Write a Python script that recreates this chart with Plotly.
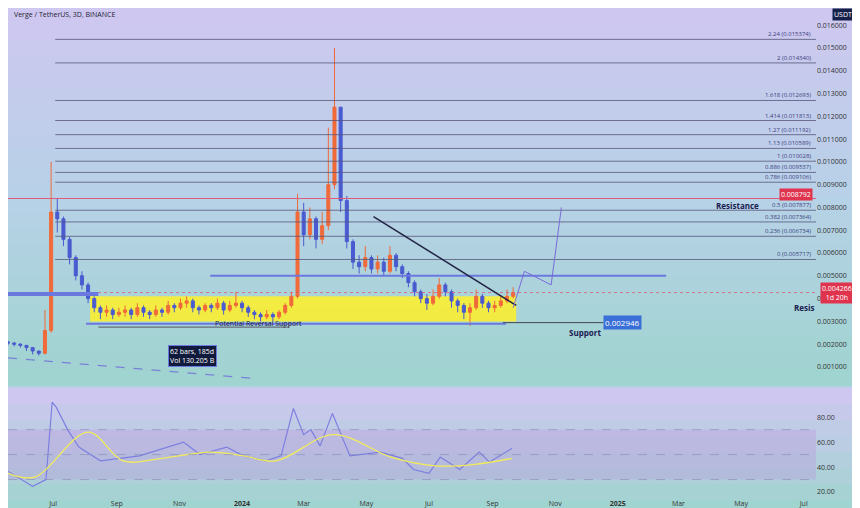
import plotly.graph_objects as go
import pandas as pd

# ---------------- data ----------------
start = "2023-05-18"
closes = [2.05,2.0,1.95,1.85,1.7,1.6,2.6,7.8,7.5,6.6,5.8,5.0,4.6,4.0,3.6,3.4,3.5,3.3,3.4,3.5,3.3,3.6,3.4,3.3,3.5,3.4,3.7,3.6,3.8,3.9,3.6,3.5,3.7,3.6,3.8,3.5,3.7,3.8,3.6,3.4,3.3,3.2,3.3,3.2,3.4,3.7,4.1,7.8,6.8,7.5,6.6,7.2,9.0,12.4,8.3,6.5,5.6,5.4,5.8,5.3,5.6,5.2,5.9,5.4,5.1,4.7,4.3,4.0,3.8,4.1,4.6,4.3,3.9,3.7,3.4,3.6,4.1,3.8,3.6,3.7,3.9,4.1,4.27]
highs = [2.15,2.1,2.05,1.95,1.8,1.7,3.5,10.0,8.4,7.6,6.7,5.9,5.2,4.7,4.1,3.7,3.7,3.6,3.6,3.7,3.6,3.8,3.7,3.5,3.7,3.6,3.9,3.8,4.0,4.1,4.0,3.7,3.8,3.8,4.0,3.9,3.9,4.3,3.9,3.7,3.5,3.4,3.5,3.4,3.5,3.8,4.3,8.6,8.2,8.0,7.6,7.8,11.5,15.0,9.0,8.5,6.6,5.9,6.3,5.9,5.9,5.8,6.3,6.0,5.5,5.2,4.8,4.4,4.2,4.4,4.9,4.7,4.4,4.0,3.8,3.8,4.4,4.2,3.9,3.9,4.1,4.4,4.5]
lows = [1.95,1.9,1.85,1.7,1.55,1.5,1.55,2.5,6.9,6.3,5.5,4.8,4.4,3.8,3.4,3.1,3.2,3.1,3.2,3.2,3.1,3.2,3.2,3.1,3.2,3.2,3.3,3.4,3.5,3.6,3.4,3.3,3.4,3.4,3.5,3.3,3.4,3.6,3.4,3.2,3.1,3.0,3.1,3.0,3.1,3.3,3.6,4.0,6.3,6.6,6.2,6.4,7.0,8.8,7.8,6.2,5.3,5.1,5.2,5.1,5.1,5.0,5.1,5.2,4.9,4.5,4.1,3.8,3.5,3.7,4.0,4.1,3.6,3.4,3.1,2.8,3.5,3.6,3.4,3.4,3.6,3.8,4.0]
first_open = 2.1

rsi_dates = ["2023-05-18","2023-06-11","2023-06-24","2023-06-30","2023-07-04","2023-07-15","2023-07-26","2023-08-16","2023-09-23","2023-10-20","2023-11-05","2023-11-21","2023-12-17","2024-01-02","2024-01-24","2024-02-08","2024-02-20","2024-03-01","2024-03-08","2024-03-17","2024-03-29","2024-04-08","2024-04-15","2024-05-15","2024-06-05","2024-06-16","2024-07-01","2024-07-12","2024-07-31","2024-08-19","2024-08-29","2024-09-20"]
rsi_vals = [36.5,24.6,30,92,88,70,56,45,49,56,60,50,56,49,45,49,87,66,70,57,83,63,49,52,47,38,35,48,38,52,44,55]
ma_dates = ["2023-05-18","2023-06-13","2023-08-04","2023-09-07","2023-10-15","2023-12-01","2024-01-02","2024-02-03","2024-03-30","2024-05-25","2024-07-07","2024-08-13","2024-09-20"]
ma_vals = [35,32,68,45,47,52,49,45,66,48,41,42,47]

fib_ratios = ["2.618","2.24","2","1.618","1.414","1.27","1.13","1","0.886","0.786","0.5","0.382","0.236","0"]
fib_prices = [0.017004,0.015374,0.014340,0.012693,0.011813,0.011192,0.010589,0.010028,0.009537,0.009106,0.007877,0.007364,0.006734,0.005717]

resistance = 0.008392
resistance_label = "0.008792"
last_price = 0.004266
support = 0.002946

tick_dates = ["2023-07-01","2023-09-01","2023-11-01","2024-01-01","2024-03-01","2024-05-01","2024-07-01","2024-09-01","2024-11-01","2025-01-01","2025-03-01","2025-05-01","2025-07-01"]
tick_text = ["Jul","Sep","Nov","<b>2024</b>","Mar","May","Jul","Sep","Nov","<b>2025</b>","Mar","May","Jul"]

# ---------------- build ----------------
dates = pd.date_range(start, periods=len(closes), freq="6D")
c = [v/1000 for v in closes]
h = [v/1000 for v in highs]
l = [v/1000 for v in lows]
o = [first_open/1000] + c[:-1]

fig = go.Figure()
fig.add_trace(go.Candlestick(x=dates, open=o, high=h, low=l, close=c,
    increasing=dict(line=dict(color="#f06a3a", width=1), fillcolor="#f06a3a"),
    decreasing=dict(line=dict(color="#4a5ad0", width=1), fillcolor="#4a5ad0"),
    whiskerwidth=0, xaxis="x", yaxis="y", showlegend=False))
fig.add_trace(go.Scatter(x=rsi_dates, y=rsi_vals, mode="lines", line=dict(color="#7d7fe0", width=1.2),
                         xaxis="x2", yaxis="y2", showlegend=False))
fig.add_trace(go.Scatter(x=ma_dates, y=ma_vals, mode="lines", line=dict(color="#f2ec5a", width=1.3, shape="spline"),
                         xaxis="x2", yaxis="y2", showlegend=False))

XR = ["2023-05-18", "2025-07-13"]
shapes = []
top = (206, 200, 240); mid = (184, 210, 232); bot = (160, 212, 208)
N = 24
for k in range(N):
    t = k / (N - 1)
    if t < 0.5:
        a, b, u = top, mid, t / 0.5
    else:
        a, b, u = mid, bot, (t - 0.5) / 0.5
    col = "rgb(%d,%d,%d)" % tuple(int(a[j] + (b[j]-a[j])*u) for j in range(3))
    y1 = 1.0 - k*(0.77/N)
    shapes.append(dict(type="rect", xref="paper", yref="paper", x0=0, x1=1.07, y0=y1-0.77/N-0.002, y1=y1,
                       fillcolor=col, line_width=0, layer="below"))
for k in range(8):
    t = k / 7
    col = "rgb(%d,%d,%d)" % tuple(int(top[j] + (bot[j]-top[j])*t) for j in range(3))
    y1 = 0.225 - k*(0.262/8)
    shapes.append(dict(type="rect", xref="paper", yref="paper", x0=0, x1=1.07, y0=y1-0.262/8-0.002, y1=y1,
                       fillcolor=col, line_width=0, layer="below"))
shapes.append(dict(type="rect", xref="paper", yref="y2", x0=0, x1=1, y0=30, y1=70,
                   fillcolor="rgba(190,150,220,0.35)", line_width=0, layer="below"))
for lv in (30, 50, 70):
    shapes.append(dict(type="line", xref="paper", yref="y2", x0=0, x1=1, y0=lv, y1=lv,
                       line=dict(color="#8a8ab8", width=0.6, dash="dash")))
shapes.append(dict(type="rect", xref="x", yref="y", x0="2023-08-06", x1="2024-09-24", y0=0.0030, y1=0.0041,
                   fillcolor="rgba(255,240,40,0.85)", line_width=0, layer="below"))
for p in fib_prices:
    shapes.append(dict(type="line", xref="x", yref="y", x0="2023-07-03", x1=XR[1], y0=p, y1=p,
                       line=dict(color="#55557a", width=0.8)))
shapes.append(dict(type="line", xref="paper", yref="y", x0=0, x1=1, y0=resistance, y1=resistance,
                   line=dict(color="#e05a7a", width=1)))
shapes.append(dict(type="line", xref="paper", yref="y", x0=0, x1=1, y0=last_price, y1=last_price,
                   line=dict(color="#e05a7a", width=0.8, dash="dot")))
shapes.append(dict(type="line", xref="x", yref="y", x0="2023-05-18", x1="2023-08-14", y0=0.0042, y1=0.0042,
                   line=dict(color="#6a78e0", width=4)))
shapes.append(dict(type="line", xref="x", yref="y", x0="2023-12-01", x1="2025-02-17", y0=0.0050, y1=0.0050,
                   line=dict(color="#6a78e0", width=2)))
shapes.append(dict(type="line", xref="x", yref="y", x0="2023-08-02", x1="2024-09-14", y0=0.0029, y1=0.0029,
                   line=dict(color="#6a78e0", width=2)))
shapes.append(dict(type="line", xref="x", yref="y", x0="2024-09-11", x1="2024-12-18", y0=support, y1=support,
                   line=dict(color="#445", width=1)))
shapes.append(dict(type="line", xref="x", yref="y", x0="2024-05-08", y0=0.0076, x1="2024-09-24", y1=0.0037,
                   line=dict(color="#222244", width=1.5)))
shapes.append(dict(type="path", xref="x", yref="y",
                   path="M 2024-09-21,0.0036 L 2024-10-02,0.0052 L 2024-10-28,0.0046 L 2024-11-07,0.0080",
                   line=dict(color="#7a6ad8", width=1)))
shapes.append(dict(type="line", xref="x", yref="y", x0="2023-08-14", x1="2024-02-16", y0=0.00275, y1=0.00275,
                   line=dict(color="#556", width=1)))
shapes.append(dict(type="line", xref="x", yref="y", x0="2023-05-18", y0=0.0014, x1="2024-01-12", y1=0.0005,
                   line=dict(color="#7a80d8", width=1.2, dash="dash")))

ann = []
for r, p in zip(fib_ratios, fib_prices):
    ann.append(dict(x="2025-07-10", y=p, xref="x", yref="y", text="%s (%.6f)" % (r, p), showarrow=False,
                    xanchor="right", yanchor="bottom", yshift=-1, font=dict(size=6, color="#3c3c80")))
ann += [
    dict(x=0.005, y=1.0, xref="paper", yref="paper", text="Verge / TetherUS, 3D, BINANCE", showarrow=False,
         xanchor="left", yanchor="top", font=dict(size=7, color="#223")),
    dict(x="2025-07-10", y=resistance, xref="x", yref="y", text=resistance_label, showarrow=False, xanchor="right",
         yanchor="middle", yshift=4, bgcolor="#e0344e", borderpad=1, font=dict(size=7, color="white")),
    dict(x="2025-05-20", y=0.0081, xref="x", yref="y", text="<b>Resistance</b>", showarrow=False, xanchor="right",
         yanchor="middle", font=dict(size=8, color="#1a2050")),
    dict(x=1.0, y=0.0036, xref="paper", yref="y", text="<b>Resis</b>", showarrow=False, xanchor="right",
         yanchor="middle", font=dict(size=8, color="#1a2050")),
    dict(x=1.005, y=last_price, xref="paper", yref="y", text="0.004266<br>1d 20h", showarrow=False, xanchor="left",
         yanchor="middle", bgcolor="#e0344e", font=dict(size=7, color="white")),
    dict(x=1.02, y=1.0, xref="paper", yref="paper", text="USDT", showarrow=False, xanchor="left", yanchor="top",
         bgcolor="#15204a", font=dict(size=7, color="white")),
    dict(x="2024-01-17", y=0.0029, xref="x", yref="y", text="Potential Reversal Support", showarrow=False,
         yanchor="middle", font=dict(size=7, color="#223")),
    dict(x="2024-11-30", y=0.0025, xref="x", yref="y", text="<b>Support</b>", showarrow=False,
         font=dict(size=8, color="#1a2050")),
    dict(x="2024-12-18", y=support, xref="x", yref="y", text="0.002946", showarrow=False, xanchor="left",
         bgcolor="#3a6fd8", font=dict(size=8, color="white")),
    dict(x="2023-11-14", y=0.0015, xref="x", yref="y", text="62 bars, 185d<br>Vol 130.205 B", showarrow=False,
         bgcolor="#101a3c", bordercolor="#6a78e0", font=dict(size=7, color="white"), align="left"),
]

fig.update_layout(
    width=860, height=508, margin=dict(l=0, r=52, t=0, b=18),
    paper_bgcolor="#b8d0e8", plot_bgcolor="rgba(0,0,0,0)",
    shapes=shapes, annotations=ann, showlegend=False,
    xaxis=dict(range=XR, domain=[0, 1], anchor="y", showticklabels=False, showgrid=False,
               rangeslider=dict(visible=False), zeroline=False),
    yaxis=dict(range=[0.000175, 0.01675], domain=[0.229, 1], side="right", tickformat=".6f", dtick=0.001,
               tick0=0, showgrid=False, zeroline=False, tickfont=dict(size=7, color="#333"), ticks=""),
    xaxis2=dict(range=XR, domain=[0, 1], anchor="y2", tickvals=tick_dates, ticktext=tick_text, showgrid=False,
                tickfont=dict(size=7, color="#333"), zeroline=False),
    yaxis2=dict(range=[15.2, 101.6], domain=[0, 0.22], side="right", tickvals=[20, 40, 60, 80],
                tickformat=".2f", showgrid=False, zeroline=False, tickfont=dict(size=7, color="#333")),
)
fig.write_html("out.html")
